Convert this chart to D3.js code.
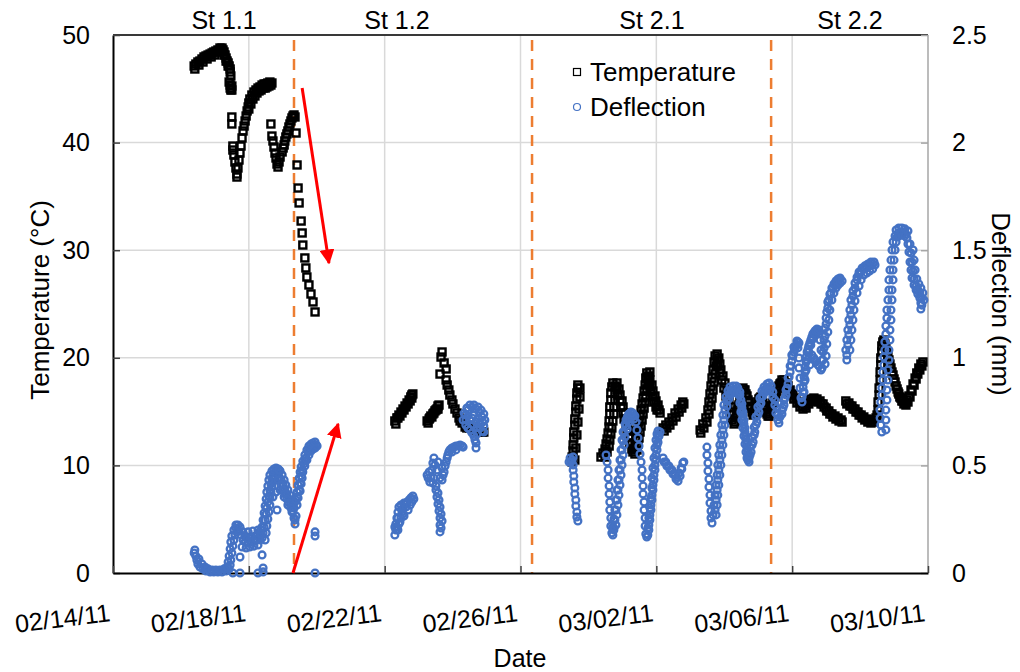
<!DOCTYPE html>
<html><head><meta charset="utf-8">
<script src="https://cdn.jsdelivr.net/npm/d3@7"></script>
<style>
body{margin:0;background:#fff}
svg{display:block}
text{font-family:"Liberation Sans",Arial,Helvetica,sans-serif;fill:#000}
</style>
</head><body>
<svg id="chart" width="1020" height="672"></svg>
<script>
// ---------- DATA ----------
// x values are days elapsed since 02/14/11 00:00
const startDate = "02/14/11";
const xTickLabels = ["02/14/11","02/18/11","02/22/11","02/26/11","03/02/11","03/06/11","03/10/11"];
const tempTicks = [0,10,20,30,40,50];
const deflTicks = [0,0.5,1,1.5,2,2.5];
const stageNames = ["St 1.1","St 1.2","St 2.1","St 2.2"];
const stageLabelDays = [3.27, 8.36, 15.87, 21.70];
const stageBoundaryDays = [5.33, 12.34, 19.38];
// red arrows: [startDay, startTemp, endDay, endTemp]
const arrows = [[5.57, 45.07, 6.36, 28.81],[5.30, 0.0, 6.63, 13.85]];

// Temperature (°C) : [day, value]
const temperature = [
[2.39,47.12],[2.44,47.30],[2.50,47.49],[2.56,47.58],[2.62,47.77],[2.68,47.96],[2.74,48.05],[2.80,48.14],[2.86,48.23],[2.92,48.33],[2.97,48.42],[3.03,48.51],[3.09,48.61],[3.15,48.79],[3.21,48.79],[3.24,48.61],[3.27,48.42],[3.30,48.14],[3.33,47.86],[3.36,47.58],[3.39,47.40],[3.42,47.12],[3.45,46.84],
[2.41,46.84],[2.53,47.21],[2.65,47.49],[2.77,47.77],[2.89,47.96],[3.00,48.14],[3.12,48.42],[3.18,48.51],[3.27,48.14],[3.33,47.58],[3.39,47.12],[3.45,46.56],[3.47,46.19],[3.50,45.26],[3.50,44.89],
[3.42,45.63],[3.45,45.35],[3.45,45.07],[3.47,44.89],
[3.50,42.38],[3.50,41.73],[3.53,39.68],[3.53,39.31],[3.56,38.85],[3.59,38.20],[3.62,37.64],[3.65,37.08],[3.65,36.80],
[3.68,37.64],[3.71,38.38],[3.74,39.03],[3.77,39.68],[3.80,40.43],[3.83,41.08],[3.86,41.54],[3.89,42.01],[3.92,42.47],[3.95,42.94],[3.98,43.31],[4.00,43.68],[4.03,44.05],[4.09,44.42],[4.15,44.70],[4.21,44.89],[4.27,45.07],[4.33,45.17],[4.39,45.35],[4.45,45.45],[4.51,45.45],[4.56,45.54],[4.62,45.63],
[4.00,43.12],[4.06,43.59],[4.12,44.05],[4.18,44.33],[4.24,44.61],[4.30,44.80],[4.36,44.89],[4.42,45.07],[4.48,45.07],[4.53,45.17],[4.59,45.26],[4.65,45.35],[4.68,45.54],
[4.65,41.73],[4.68,40.61],[4.71,40.15],[4.74,39.59],[4.77,39.03],[4.80,38.57],[4.83,38.01],[4.86,37.73],[4.89,38.20],[4.92,38.66],[4.98,39.13],[5.01,39.50],[5.04,39.78],[5.06,40.15],[5.09,40.52],[5.12,40.80],[5.15,41.08],[5.18,41.45],[5.21,41.73],[5.24,42.01],[5.27,42.29],[5.30,42.47],[5.33,42.57],[5.36,42.38],[5.39,40.89],
[5.42,37.92],[5.45,35.78],[5.48,34.39],[5.54,32.71],[5.57,31.60],[5.59,30.48],[5.65,29.28],[5.68,28.35],[5.71,27.51],[5.77,26.77],[5.83,25.93],[5.89,25.19],[5.95,24.26],
[8.30,14.13],[8.36,14.41],[8.42,14.68],[8.48,14.96],[8.54,15.24],[8.60,15.52],[8.66,15.80],[8.72,16.08],[8.77,16.36],[8.80,16.54],
[8.33,13.85],[8.39,14.41],[8.45,14.59],[8.51,14.87],[8.57,15.15],[8.63,15.43],[8.69,15.71],[8.75,15.99],[8.80,16.26],[8.83,16.64],
[9.25,14.13],[9.31,14.31],[9.36,14.59],[9.42,14.78],[9.48,15.06],[9.54,15.24],[9.57,15.52],
[9.28,13.94],[9.33,14.41],[9.39,14.50],[9.45,14.87],[9.51,15.15],[9.57,15.24],[9.60,15.61],
[9.69,20.54],[9.66,20.07],[9.75,19.52],[9.81,18.96],[9.63,18.49],[9.81,17.94],[9.84,17.47],[9.89,17.01],[9.92,16.54],[9.98,16.08],[10.01,15.71],[10.07,15.24],[10.13,14.87],[10.19,14.41],[10.28,13.94],[10.37,13.57],[10.51,13.48],[10.69,13.29],[10.87,13.10],[10.92,13.10],
[10.22,14.13],[10.42,13.48],[10.60,13.29],[10.78,13.20],
[13.52,10.32],[13.52,10.78],[13.55,11.34],[13.55,11.90],[13.57,12.55],[13.57,13.10],[13.60,13.75],[13.60,14.31],[13.63,14.96],[13.63,15.52],[13.66,16.17],[13.66,16.73],[13.69,17.19],[13.69,17.47],
[13.60,10.50],[13.63,11.62],[13.66,12.83],[13.69,14.03],[13.72,15.24],[13.75,16.36],[13.75,17.19],
[14.37,10.78],[14.43,11.15],[14.49,11.52],[14.52,11.99],[14.55,12.45],[14.58,13.01],[14.61,13.57],[14.61,14.13],[14.63,14.78],[14.63,15.43],[14.66,16.08],[14.66,16.73],[14.69,17.29],[14.72,17.66],[14.78,17.38],[14.84,17.01],[14.87,16.54],[14.93,15.99],[14.96,15.43],[15.02,14.87],[15.05,14.31],[15.11,13.75],[15.14,13.20],[15.19,12.64],[15.22,12.08],[15.28,11.52],[15.31,11.25],
[14.49,10.78],[14.55,11.25],[14.61,11.80],[14.63,12.36],[14.66,12.92],[14.69,13.48],[14.72,14.13],[14.75,14.78],[14.75,15.43],[14.78,16.08],[14.78,16.73],[14.81,17.29],[14.84,17.66],
[14.90,17.10],[14.93,16.54],[14.99,15.99],[15.02,15.43],[15.08,14.87],[15.11,14.31],[15.16,13.75],[15.19,13.20],[15.25,12.64],[15.28,12.08],[15.34,11.52],[15.37,11.06],
[15.37,11.80],[15.40,12.36],[15.43,12.92],[15.46,13.48],[15.49,14.03],[15.52,14.59],[15.55,15.15],[15.58,15.71],[15.61,16.26],[15.64,16.91],[15.67,17.47],[15.69,18.12],[15.72,18.59],[15.75,18.22],[15.78,17.75],[15.81,17.29],[15.84,16.82],[15.90,16.36],[15.93,15.89],[15.99,15.43],[16.02,15.15],
[15.43,11.43],[15.46,11.99],[15.49,12.55],[15.52,13.10],[15.55,13.66],[15.58,14.22],[15.61,14.78],[15.64,15.33],[15.67,15.89],[15.69,16.45],[15.72,17.10],[15.75,17.66],[15.78,18.31],[15.81,18.68],
[15.81,17.94],[15.87,17.47],[15.90,16.91],[15.96,16.45],[15.99,15.99],[16.05,15.61],[16.08,15.15],[16.11,14.87],
[16.20,13.48],[16.28,13.75],[16.37,14.03],[16.46,14.41],[16.55,14.87],[16.64,15.24],[16.73,15.61],[16.78,15.89],
[16.23,13.20],[16.31,13.48],[16.40,13.75],[16.49,14.13],[16.58,14.50],[16.67,14.96],[16.75,15.33],[16.81,15.71],
[17.29,13.29],[17.37,13.85],[17.46,14.41],[17.52,15.15],[17.55,15.89],[17.58,16.64],[17.61,17.38],[17.64,18.12],[17.67,18.87],[17.70,19.61],[17.73,20.17],[17.79,19.80],[17.81,19.24],[17.87,18.59],[17.93,17.94],[17.99,17.19],[18.05,16.45],[18.11,15.71],[18.17,14.96],[18.23,14.22],[18.29,13.85],[18.35,14.41],[18.40,15.15],[18.46,16.08],[18.52,16.82],[18.58,17.01],[18.64,16.64],[18.70,16.08],[18.76,15.52],[18.82,14.96],[18.88,14.78],[18.93,15.33],[18.99,15.89],[19.05,16.26],[19.11,16.08],[19.17,15.52],[19.23,14.96],[19.29,14.59],[19.35,14.96],[19.40,15.52],[19.46,16.08],[19.52,16.64],[19.58,17.19],[19.64,17.57],[19.70,17.94],[19.76,17.94],[19.82,17.66],[19.88,17.38],[19.94,17.01],[20.02,16.64],[20.11,16.26],[20.20,15.89],[20.29,15.52],[20.38,15.52],[20.47,15.89],[20.55,16.17],[20.64,16.26],[20.73,16.17],[20.82,15.99],[20.91,15.71],[21.00,15.33],[21.08,15.06],[21.17,14.78],[21.26,14.59],[21.35,14.41],[21.44,14.22],
[17.31,13.01],[17.40,13.48],[17.49,14.03],[17.55,14.78],[17.61,15.52],[17.64,16.26],[17.67,17.01],[17.70,17.75],[17.73,18.49],[17.76,19.24],[17.79,20.35],[17.84,19.98],[17.87,19.42],[17.90,18.87],[17.96,18.31],[18.02,17.66],[18.08,16.91],[18.14,16.17],[18.20,15.43],[18.26,14.68],[18.32,14.03],[18.37,14.78],[18.43,15.61],[18.49,16.45],[18.55,17.19],[18.61,17.01],[18.67,16.45],[18.73,15.89],[18.79,15.33],[18.85,14.68],[18.90,15.06],[18.96,15.61],[19.02,16.17],[19.08,16.36],[19.14,15.80],[19.20,15.24],[19.26,14.78],[19.32,14.59],[19.38,15.24],[19.43,15.80],[19.49,16.36],[19.55,16.91],[19.61,17.38],[19.67,17.66],[19.73,17.66],[19.79,17.47],[19.85,17.19],[19.91,16.82],[19.97,16.54],[20.05,16.17],[20.14,15.80],[20.23,15.43],[20.32,15.24],[20.41,15.33],[20.49,15.71],[20.58,15.99],[20.67,15.99],[20.76,15.89],[20.85,15.71],[20.94,15.43],[21.02,15.06],[21.11,14.78],[21.20,14.50],[21.29,14.31],[21.38,14.13],[21.47,14.03],
[21.58,15.99],[21.67,15.80],[21.76,15.52],[21.85,15.24],[21.94,14.96],[22.03,14.68],[22.11,14.50],[22.20,14.31],[22.28,14.22],[22.37,14.22],[22.47,14.41],[22.53,15.15],[22.56,16.54],[22.59,17.94],[22.61,19.33],[22.64,20.54],[22.67,21.47],[22.70,21.65],[22.73,21.28],[22.79,20.54],[22.85,19.80],[22.91,19.05],[22.97,18.40],[23.03,17.75],[23.09,17.10],[23.14,16.64],[23.20,16.26],[23.26,15.99],[23.32,15.80],[23.38,16.08],[23.44,16.45],[23.50,17.01],[23.56,17.57],[23.62,18.12],[23.67,18.59],[23.73,19.05],[23.79,19.42],[23.85,19.61],
[21.61,15.71],[21.70,15.52],[21.79,15.24],[21.88,14.96],[21.97,14.68],[22.06,14.41],[22.14,14.22],[22.23,14.03],[22.32,13.94],[22.41,14.03],[22.50,14.68],[22.53,15.89],[22.56,17.19],[22.59,18.68],[22.61,19.98],[22.64,21.10],[22.76,20.91],[22.82,20.17],[22.88,19.42],[22.94,18.68],[23.00,18.03],[23.06,17.38],[23.12,16.82],[23.17,16.36],[23.23,15.99],[23.29,15.71],[23.35,15.61],[23.41,15.89],[23.47,16.36],[23.53,16.91],[23.59,17.47],[23.65,18.03],[23.70,18.49],[23.76,18.87],[23.82,19.24]
];

// Deflection (mm) : [day, value]
const deflection = [
[2.44,0.079],[2.47,0.060],[2.50,0.042],[2.56,0.028],[2.65,0.019],[2.74,0.009],[2.86,0.005],[2.97,0.005],[3.09,0.005],[3.21,0.005],[3.33,0.009],[3.42,0.019],[3.45,0.037],[3.47,0.060],[3.50,0.093],[3.53,0.125],[3.56,0.153],[3.59,0.177],[3.65,0.191],[3.71,0.195],[3.77,0.177],[3.83,0.153],[3.89,0.144],[3.98,0.139],[4.06,0.144],[4.15,0.149],[4.24,0.153],[4.33,0.153],[4.39,0.163],[4.42,0.186],[4.45,0.214],[4.48,0.246],[4.51,0.274],[4.53,0.302],[4.56,0.330],[4.59,0.358],[4.62,0.386],[4.65,0.414],[4.68,0.437],[4.71,0.451],[4.77,0.465],[4.83,0.460],[4.89,0.446],[4.95,0.432],[5.01,0.414],[5.06,0.390],[5.12,0.367],[5.18,0.344],[5.24,0.325],[5.30,0.316],[5.36,0.330],[5.42,0.353],[5.48,0.386],[5.51,0.418],[5.54,0.451],[5.57,0.479],[5.62,0.507],[5.68,0.534],[5.74,0.562],[5.80,0.576],[5.86,0.585],[5.92,0.590],[5.98,0.595],
[3.62,0.209],[3.89,0.172],[4.03,0.167],[4.18,0.172],[4.33,0.177],[4.62,0.316],[4.71,0.353],[4.80,0.376],[4.92,0.386],[5.04,0.353],[5.15,0.316],[5.27,0.283],[5.33,0.256],[5.36,0.246],[5.39,0.265],
[2.39,0.093],[2.41,0.107],[2.53,0.065],[2.62,0.042],[2.71,0.028],[2.80,0.019],[2.92,0.014],[3.03,0.014],[3.15,0.014],[3.27,0.019],[3.36,0.028],
[3.39,0.051],[3.42,0.079],[3.45,0.112],[3.47,0.144],[3.50,0.172],[3.56,0.200],[3.62,0.223],[3.68,0.223],[3.74,0.214],
[3.80,0.121],[3.92,0.116],[4.03,0.121],[4.15,0.125],[4.27,0.130],[3.83,0.191],[3.98,0.191],[4.12,0.195],[4.27,0.200],[4.36,0.200],[4.09,0.163],[4.21,0.158],[3.95,0.158],
[4.48,0.153],[4.51,0.186],[4.53,0.218],[4.56,0.251],[4.59,0.283],[4.62,0.349],[4.65,0.376],[4.68,0.400],[4.71,0.423],[4.74,0.441],[4.80,0.479],[4.86,0.483],[4.92,0.474],[4.98,0.455],
[4.36,0.181],[4.39,0.214],[4.42,0.246],[4.45,0.279],[4.48,0.311],[4.51,0.344],[4.53,0.376],[4.56,0.404],[4.59,0.432],[4.62,0.455],[4.68,0.474],[4.74,0.483],[4.80,0.488],[4.89,0.479],
[5.04,0.432],[5.09,0.409],[5.15,0.386],[5.21,0.362],[5.27,0.339],[5.33,0.302],
[4.86,0.432],[4.95,0.409],[5.01,0.386],[5.06,0.367],[5.12,0.344],[5.18,0.325],[5.24,0.302],[5.30,0.288],
[5.42,0.316],[5.45,0.349],[5.51,0.381],[5.54,0.414],[5.57,0.441],[5.59,0.469],[5.65,0.497],[5.71,0.525],[5.77,0.548],[5.83,0.567],[5.89,0.576],[5.95,0.581],[6.01,0.590],[5.65,0.520],
[5.39,0.339],[5.42,0.376],[5.45,0.409],[5.48,0.441],[5.51,0.469],[5.54,0.493],[5.59,0.520],[5.65,0.548],[5.71,0.572],[5.77,0.590],[5.83,0.599],[5.89,0.604],[5.95,0.609],
[3.53,0.0],[3.74,0.0],[4.27,0.0],[4.42,0.005],[4.42,0.023],[3.74,0.074],[4.39,0.084],[5.95,0.191],[5.95,0.172],[5.95,0.0],[4.83,0.293],[5.36,0.228],
[8.33,0.200],[8.33,0.228],[8.36,0.256],[8.39,0.283],[8.42,0.307],[8.48,0.316],[8.54,0.302],[8.60,0.321],[8.66,0.330],[8.72,0.339],[8.77,0.349],[8.83,0.358],[8.45,0.237],[8.57,0.265],[8.69,0.293],[8.36,0.214],
[8.30,0.177],[8.30,0.214],[8.39,0.200],[8.42,0.228],[8.48,0.256],[8.51,0.283],[8.57,0.325],[8.63,0.307],[8.75,0.316],[8.80,0.330],[8.86,0.344],[8.54,0.274],[8.39,0.256],
[9.63,0.191],[9.63,0.223],[9.63,0.256],[9.60,0.288],[9.57,0.321],[9.54,0.353],[9.51,0.386],[9.42,0.418],[9.36,0.446],[9.39,0.479],[9.42,0.511],[9.45,0.534],[9.54,0.479],[9.63,0.441],[9.69,0.432],[9.75,0.469],[9.78,0.497],[9.84,0.534],[9.89,0.562],[9.98,0.581],[10.10,0.590],[10.22,0.595],[10.31,0.585],[9.28,0.441],[9.31,0.469],
[9.66,0.209],[9.69,0.242],[9.66,0.274],[9.63,0.307],[9.60,0.339],[9.57,0.372],[9.51,0.404],[9.45,0.441],[9.33,0.423],[9.25,0.455],[9.48,0.502],[9.57,0.516],[9.69,0.488],[9.72,0.455],[9.81,0.516],[9.86,0.548],[9.92,0.572],[10.04,0.585],[10.16,0.590],[10.28,0.590],[9.98,0.562],[10.10,0.572],
[10.31,0.711],[10.34,0.743],[10.42,0.767],[10.51,0.781],[10.63,0.781],[10.75,0.771],[10.84,0.757],[10.92,0.739],[10.95,0.711],[10.92,0.683],[10.87,0.660],[10.81,0.674],[10.69,0.702],[10.57,0.720],[10.45,0.730],[10.39,0.688],[10.51,0.665],[10.63,0.637],[10.69,0.604],[10.69,0.581],[10.92,0.655],
[10.37,0.734],[10.45,0.757],[10.57,0.771],[10.69,0.762],[10.78,0.748],[10.87,0.725],[10.89,0.702],[10.81,0.692],[10.72,0.678],[10.60,0.688],[10.51,0.711],[10.39,0.711],[10.45,0.674],[10.57,0.651],[10.66,0.618],[10.72,0.646],[10.63,0.734],[10.75,0.720],
[13.46,0.534],[13.49,0.516],[13.52,0.525],[13.55,0.502],[13.55,0.479],[13.57,0.451],[13.57,0.423],[13.60,0.395],[13.60,0.367],[13.63,0.339],[13.63,0.311],[13.66,0.283],[13.66,0.260],[13.69,0.242],[13.43,0.516],[13.55,0.539],
[14.52,0.548],[14.55,0.516],[14.58,0.479],[14.58,0.441],[14.61,0.404],[14.61,0.367],[14.63,0.330],[14.63,0.293],[14.66,0.256],[14.66,0.218],[14.69,0.186],[14.72,0.214],[14.75,0.251],[14.78,0.293],[14.81,0.339],[14.84,0.386],[14.87,0.432],[14.90,0.479],[14.93,0.525],[14.96,0.572],[14.99,0.618],[15.02,0.655],[15.08,0.692],[15.14,0.720],[15.19,0.739],[15.25,0.748],[15.31,0.743],[15.37,0.730],[15.40,0.702],[15.43,0.665],[15.46,0.627],[15.49,0.590],[15.52,0.553],[15.55,0.516],[15.58,0.479],[15.58,0.441],[15.61,0.404],[15.61,0.367],[15.64,0.330],[15.64,0.293],[15.67,0.256],[15.67,0.218],[15.69,0.181],[15.72,0.167],[15.75,0.209],[15.78,0.256],[15.81,0.302],[15.84,0.349],[15.87,0.395],[15.87,0.441],[15.90,0.488],[15.93,0.534],[15.96,0.581],[15.99,0.618],[16.02,0.646],[16.05,0.660],
[14.72,0.177],[14.75,0.200],[14.81,0.223],[14.84,0.270],[14.87,0.316],[14.90,0.362],[14.93,0.409],[14.96,0.455],[14.99,0.502],[15.02,0.548],[15.05,0.595],[15.08,0.632],[15.14,0.669],[15.19,0.702],[15.25,0.725],[15.31,0.730],[15.34,0.716],[15.11,0.711],[15.16,0.730],
[14.75,0.209],[14.78,0.246],[14.81,0.293],[14.84,0.339],[14.87,0.386],[14.90,0.432],[14.93,0.479],[14.96,0.525],[14.99,0.572],[15.02,0.613],[15.05,0.651],[15.11,0.683],[15.16,0.711],[15.22,0.734],[15.28,0.743],
[15.78,0.200],[15.81,0.246],[15.84,0.293],[15.87,0.339],[15.90,0.386],[15.93,0.432],[15.96,0.479],[15.99,0.525],[16.02,0.572],[16.05,0.608],[16.08,0.637],[16.11,0.655],
[15.75,0.177],[15.78,0.223],[15.81,0.270],[15.84,0.316],[15.87,0.362],[15.90,0.409],[15.93,0.455],[15.96,0.502],[15.99,0.548],[16.02,0.595],[16.05,0.632],
[16.20,0.534],[16.28,0.516],[16.37,0.497],[16.46,0.479],[16.55,0.460],[16.61,0.446],[16.67,0.465],[16.73,0.488],[16.78,0.511],
[16.23,0.516],[16.31,0.497],[16.40,0.479],[16.49,0.460],[16.58,0.437],[16.64,0.427],[16.70,0.451],[16.75,0.483],[16.81,0.516],
[17.49,0.585],[17.49,0.548],[17.52,0.511],[17.52,0.474],[17.55,0.437],[17.55,0.400],[17.58,0.362],[17.58,0.325],[17.61,0.288],[17.61,0.256],[17.64,0.232],[17.67,0.270],[17.70,0.316],[17.73,0.362],[17.76,0.409],[17.79,0.455],[17.81,0.502],[17.84,0.548],[17.87,0.595],[17.90,0.641],[17.93,0.688],[17.96,0.734],[17.99,0.781],[18.05,0.818],[18.11,0.846],[18.17,0.864],[18.26,0.869],[18.35,0.869],[18.40,0.860],[18.43,0.827],[18.46,0.790],[18.49,0.748],[18.52,0.711],[18.55,0.674],[18.58,0.637],[18.61,0.599],[18.64,0.562],[18.67,0.534],[18.70,0.544],[18.76,0.585],[18.82,0.632],[18.88,0.678],[18.93,0.725],[18.99,0.771],[19.05,0.813],[19.11,0.846],[19.17,0.864],[19.26,0.878],[19.32,0.883],[19.38,0.869],[19.43,0.841],[19.49,0.804],[19.55,0.767],[19.58,0.734],[19.64,0.725],[19.70,0.757],[19.76,0.804],[19.82,0.850],[19.88,0.906],[19.94,0.962],[19.99,1.013],[20.05,1.050],[20.14,1.078],
[17.73,0.293],[17.76,0.339],[17.79,0.386],[17.81,0.432],[17.84,0.479],[17.87,0.525],[17.90,0.572],[17.93,0.618],[17.96,0.665],[17.99,0.711],[18.02,0.757],[18.08,0.800],[18.14,0.832],[18.20,0.850],[18.29,0.855],[18.37,0.850],[18.46,0.827],
[17.76,0.270],[17.79,0.316],[17.81,0.362],[17.84,0.409],[17.87,0.455],[17.90,0.502],[17.93,0.548],[17.96,0.595],[17.99,0.641],[18.02,0.688],[18.05,0.734],[18.08,0.776],[18.14,0.809],[18.20,0.832],[18.29,0.841],[18.37,0.836],
[18.49,0.804],[18.52,0.767],[18.55,0.730],[18.58,0.692],[18.61,0.655],[18.64,0.618],[18.67,0.581],[18.70,0.525],[18.73,0.516],
[18.46,0.841],[18.52,0.786],[18.55,0.748],[18.58,0.711],[18.61,0.674],[18.64,0.637],[18.67,0.599],[18.70,0.562],[18.73,0.534],
[18.76,0.548],[18.82,0.595],[18.88,0.641],[18.93,0.688],[18.99,0.734],[19.05,0.781],[19.11,0.818],[19.17,0.841],[19.23,0.860],[19.29,0.864],[19.35,0.850],
[18.79,0.562],[18.85,0.609],[18.90,0.655],[18.96,0.702],[19.02,0.748],[19.08,0.790],[19.14,0.823],[19.20,0.841],[19.26,0.850],[19.32,0.846],
[19.43,0.818],[19.49,0.781],[19.52,0.743],[19.58,0.711],[19.61,0.697],
[19.70,0.739],[19.76,0.781],[19.82,0.827],[19.88,0.878],[19.94,0.934],[19.99,0.985],[20.05,1.027],[20.11,1.055],[20.17,1.073],
[19.73,0.767],[19.79,0.813],[19.85,0.860],[19.91,0.911],[19.97,0.962],[20.02,1.008],[20.08,1.041],[20.14,1.059],[20.20,1.069],
[20.17,1.046],[20.20,0.999],[20.20,0.953],[20.23,0.906],[20.23,0.860],[20.26,0.813],[20.29,0.795],[20.32,0.841],[20.35,0.888],[20.38,0.934],[20.41,0.980],[20.44,1.027],[20.49,1.055],[20.55,1.083],[20.61,1.111],[20.67,1.125],[20.73,1.134],[20.79,1.129],[20.82,1.083],[20.85,1.036],[20.88,0.990],[20.88,0.953],[20.91,0.990],[20.94,1.046],[20.97,1.101],[21.00,1.157],[21.02,1.213],[21.05,1.259],[21.11,1.296],[21.17,1.324],[21.23,1.343],[21.29,1.357],[21.35,1.366],[20.52,0.967],[20.58,1.013],[20.67,0.990],[20.76,0.967],
[20.35,0.841],[20.38,0.897],[20.41,0.943],[20.44,0.990],[20.49,1.027],[20.55,1.059],[20.61,1.087],[20.67,1.106],[20.73,1.115],[20.79,1.111],
[20.29,0.818],[20.32,0.864],[20.35,0.911],[20.38,0.957],[20.41,1.004],[20.47,1.041],[20.52,1.069],[20.58,1.097],[20.64,1.115],[20.70,1.125],[20.76,1.125],
[20.64,0.999],[20.70,0.980],[20.79,0.962],[20.85,0.943],
[20.91,1.027],[20.94,1.083],[20.97,1.138],[21.00,1.185],[21.05,1.231],[21.08,1.269],[21.14,1.301],[21.20,1.324],[21.26,1.338],[21.32,1.352],[21.38,1.362],[21.41,1.371],
[20.97,0.971],[21.00,1.008],[21.02,1.064],[21.05,1.120],[21.08,1.176],[21.11,1.222],[21.17,1.269],[21.23,1.301],[21.29,1.324],[21.35,1.338],[21.41,1.348],[21.47,1.357],
[21.61,1.013],[21.64,1.059],[21.67,1.106],[21.70,1.152],[21.73,1.199],[21.76,1.245],[21.79,1.287],[21.85,1.324],[21.91,1.362],[21.97,1.389],[22.03,1.403],[22.11,1.413],[22.20,1.417],[22.28,1.427],[22.38,1.436],
[21.58,1.036],[21.61,1.083],[21.64,1.129],[21.67,1.176],[21.70,1.222],[21.73,1.269],[21.79,1.310],[21.85,1.348],[21.91,1.375],[21.97,1.399],[22.06,1.417],[22.14,1.427],[22.23,1.436],[22.32,1.445],[22.41,1.445],[21.61,0.990],
[21.70,1.036],[21.73,1.083],[21.76,1.129],[21.79,1.176],[21.82,1.222],[21.85,1.264],[21.91,1.301],[21.97,1.334],[22.03,1.362],[22.11,1.385],[22.20,1.394],[22.28,1.403],[22.37,1.413],[22.44,1.431],
[22.64,0.655],[22.61,0.688],[22.59,0.720],[22.59,0.757],[22.61,0.795],[22.64,0.827],[22.64,0.860],[22.67,0.897],[22.67,0.934],[22.70,0.967],[22.70,1.004],[22.73,1.036],[22.73,1.073],[22.76,1.111],[22.76,1.148],[22.79,1.185],[22.79,1.222],[22.82,1.269],[22.85,1.315],[22.85,1.362],[22.88,1.408],[22.91,1.454],[22.94,1.501],[22.97,1.538],[23.03,1.566],[23.12,1.580],[23.20,1.585],[23.29,1.585],[23.35,1.575],[23.38,1.557],[23.41,1.529],[23.44,1.492],[23.47,1.445],[23.50,1.408],[23.53,1.371],[23.59,1.338],[23.65,1.315],[23.70,1.296],[23.76,1.278],[23.79,1.255],
[22.76,0.665],[22.76,0.711],[22.76,0.757],[22.79,0.804],[22.79,0.850],[22.82,0.897],[22.82,0.943],[22.85,0.990],[22.85,1.036],[22.88,1.083],[22.88,1.129],[22.91,1.176],[22.91,1.222],[22.94,1.269],[22.94,1.315],[22.97,1.362],[22.97,1.408],[23.00,1.454],[23.03,1.501],[23.06,1.538],[23.09,1.561],
[23.14,1.566],[23.23,1.571],[23.32,1.566],
[23.06,1.594],[23.14,1.603],[23.23,1.603],[23.32,1.599],[23.41,1.589],
[23.47,1.529],[23.50,1.487],[23.53,1.445],[23.56,1.403],[23.59,1.366],[23.65,1.334],[23.70,1.315],[23.76,1.301],[23.82,1.278],[23.82,1.245],[23.79,1.227],
[23.56,1.501],[23.59,1.454],[23.62,1.408],[23.67,1.366],[23.73,1.343],[23.79,1.324],[23.85,1.301],[23.88,1.269]
];

// ---------- CHART ----------
const plot = {left:113, right:928, top:35, bottom:573};
const svg = d3.select("#chart");
const parse = d3.timeParse("%m/%d/%y");
const t0 = parse(startDate);
const toDate = d => new Date(t0.getTime() + d*864e5);

const x = d3.scaleTime().domain([parse(xTickLabels[0]), parse(xTickLabels[xTickLabels.length-1])]).range([plot.left, plot.right]);
const yT = d3.scaleLinear().domain([0,50]).range([plot.bottom, plot.top]);
const yD = d3.scaleLinear().domain([0,2.5]).range([plot.bottom, plot.top]);

const gridColor = "#d9d9d9";
svg.append("g").selectAll("line").data(tempTicks.slice(1)).join("line")
  .attr("x1",plot.left).attr("x2",plot.right)
  .attr("y1",d=>yT(d)).attr("y2",d=>yT(d))
  .attr("stroke",gridColor).attr("stroke-width",1.5);
svg.append("g").selectAll("line").data(xTickLabels.slice(1,-1)).join("line")
  .attr("x1",d=>x(parse(d))).attr("x2",d=>x(parse(d)))
  .attr("y1",plot.top).attr("y2",plot.bottom)
  .attr("stroke",gridColor).attr("stroke-width",1.5);

svg.append("g").selectAll("line").data(stageBoundaryDays).join("line")
  .attr("x1",d=>x(toDate(d))).attr("x2",d=>x(toDate(d)))
  .attr("y1",plot.top+5).attr("y2",plot.bottom)
  .attr("stroke","#ED7D31").attr("stroke-width",2.5).attr("stroke-dasharray","11,8");

svg.append("line").attr("x1",plot.right).attr("x2",plot.right).attr("y1",plot.top).attr("y2",plot.bottom)
  .attr("stroke","#a6a6a6").attr("stroke-width",1.5);
svg.append("line").attr("x1",plot.left).attr("x2",plot.right).attr("y1",plot.top).attr("y2",plot.top)
  .attr("stroke","#000").attr("stroke-width",1.5);

const fs = 25;
const leftAxis = svg.append("g").attr("transform",`translate(${plot.left},0)`)
  .call(d3.axisLeft(yT).tickValues(tempTicks).tickSizeInner(-7).tickSizeOuter(0).tickPadding(23).tickFormat(d3.format("d")));
leftAxis.select(".domain").attr("stroke","#000").attr("stroke-width",2);
leftAxis.selectAll(".tick line").attr("stroke","#404040").attr("stroke-width",1.5);
leftAxis.selectAll("text").attr("font-size",fs).attr("font-family","Liberation Sans, Arial, sans-serif").attr("fill","#000");

const rightAxis = svg.append("g").attr("transform",`translate(${plot.right},0)`)
  .call(d3.axisRight(yD).tickValues(deflTicks).tickSizeInner(-7).tickSizeOuter(0).tickPadding(24).tickFormat(d=>String(d)));
rightAxis.select(".domain").remove();
rightAxis.selectAll(".tick line").attr("stroke","#a6a6a6").attr("stroke-width",1.5);
rightAxis.selectAll("text").attr("font-size",fs).attr("font-family","Liberation Sans, Arial, sans-serif").attr("fill","#000");

const bottomAxis = svg.append("g").attr("transform",`translate(0,${plot.bottom})`)
  .call(d3.axisBottom(x).tickValues(xTickLabels.map(parse)).tickSizeInner(-7).tickSizeOuter(0).tickFormat(""));
bottomAxis.select(".domain").attr("stroke","#000").attr("stroke-width",2);
bottomAxis.selectAll(".tick line").attr("stroke","#404040").attr("stroke-width",1.5);

svg.append("g").selectAll("text").data(xTickLabels).join("text")
  .attr("transform",d=>`translate(${x(parse(d))-2},621) rotate(-7)`)
  .attr("text-anchor","end").attr("font-size",fs).text(d=>d);

svg.append("text").attr("transform","translate(49,300) rotate(-90)").attr("text-anchor","middle")
  .attr("font-size",26).text("Temperature (°C)");
svg.append("text").attr("transform","translate(992,304) rotate(90)").attr("text-anchor","middle")
  .attr("font-size",26).text("Deflection (mm)");
svg.append("text").attr("x",520).attr("y",667).attr("text-anchor","middle").attr("font-size",25).text("Date");

svg.append("g").selectAll("text").data(stageNames).join("text")
  .attr("x",(d,i)=>x(toDate(stageLabelDays[i]))).attr("y",29)
  .attr("text-anchor","middle").attr("font-size",fs).text(d=>d);

const sq = 7;
svg.append("g").selectAll("rect").data(temperature).join("rect")
  .attr("x",d=>x(toDate(d[0]))-sq/2).attr("y",d=>yT(d[1])-sq/2)
  .attr("width",sq).attr("height",sq)
  .attr("fill","none").attr("stroke","#000").attr("stroke-width",2.4);

svg.append("g").selectAll("circle").data(deflection).join("circle")
  .attr("cx",d=>x(toDate(d[0]))).attr("cy",d=>yD(d[1])).attr("r",3.4)
  .attr("fill","none").attr("stroke","#4472C4").attr("stroke-width",2.3);

const defs = svg.append("defs");
defs.append("marker").attr("id","ah").attr("viewBox","0 0 10 10").attr("refX",9).attr("refY",5)
  .attr("markerWidth",5).attr("markerHeight",5).attr("markerUnits","strokeWidth").attr("orient","auto")
  .append("path").attr("d","M0,0 L10,5 L0,10 z").attr("fill","#FF0000");
svg.append("g").selectAll("line").data(arrows).join("line")
  .attr("x1",d=>x(toDate(d[0]))).attr("y1",d=>yT(d[1]))
  .attr("x2",d=>x(toDate(d[2]))).attr("y2",d=>yT(d[3]))
  .attr("stroke","#FF0000").attr("stroke-width",3).attr("marker-end","url(#ah)");

const lg = svg.append("g");
lg.append("rect").attr("x",573.5).attr("y",68.5).attr("width",7).attr("height",7).attr("fill","none").attr("stroke","#000").attr("stroke-width",1.2);
lg.append("circle").attr("cx",577).attr("cy",107).attr("r",3.5).attr("fill","none").attr("stroke","#4472C4").attr("stroke-width",1.2);
lg.append("text").attr("x",590).attr("y",81).attr("font-size",26).text("Temperature");
lg.append("text").attr("x",590).attr("y",116).attr("font-size",26).text("Deflection");
</script>
</body></html>
